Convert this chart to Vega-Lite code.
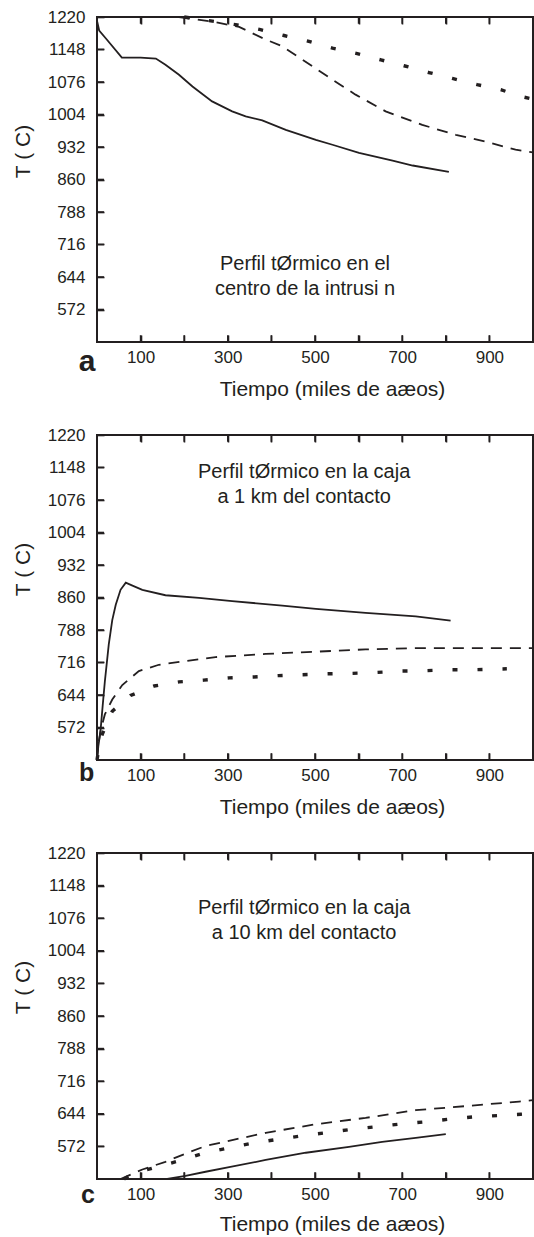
{
  "$schema": "https://vega.github.io/schema/vega-lite/v6.json",
  "background": "white",
  "padding": {"left": 11, "top": 7, "right": 0, "bottom": 0},
  "bounds": "flush",
  "spacing": 93,
  "config": {
    "font": "Liberation Sans",
    "view": {"stroke": "#231f20", "strokeWidth": 2},
    "axis": {"labelFont": "Liberation Sans", "titleFont": "Liberation Sans", "labelColor": "#231f20", "titleColor": "#231f20", "tickColor": "#231f20", "tickWidth": 1.6, "tickSize": 7, "offset": -7, "zindex": 2, "labelFontSize": 17, "titleFontSize": 21, "titleFontWeight": "normal", "grid": false, "domain": false, "labelFlush": false, "labelOverlap": false},
    "text": {"font": "Liberation Sans", "color": "#231f20"},
    "line": {"color": "#231f20", "clip": true},
    "rule": {"color": "#231f20", "strokeWidth": 1.6}
  },
  "datasets": {
    "xt": [{"v": 100}, {"v": 200}, {"v": 300}, {"v": 400}, {"v": 500}, {"v": 600}, {"v": 700}, {"v": 800}, {"v": 900}],
    "yt": [{"v": 572}, {"v": 644}, {"v": 716}, {"v": 788}, {"v": 860}, {"v": 932}, {"v": 1004}, {"v": 1076}, {"v": 1148}],
    "a": [
      {"t": 0, "T": 1212, "c": "solid"}, {"t": 5, "T": 1190, "c": "solid"}, {"t": 20, "T": 1173, "c": "solid"}, {"t": 57, "T": 1130, "c": "solid"}, {"t": 100, "T": 1130, "c": "solid"}, {"t": 135, "T": 1128, "c": "solid"}, {"t": 157, "T": 1114, "c": "solid"}, {"t": 188, "T": 1092, "c": "solid"}, {"t": 219, "T": 1066, "c": "solid"}, {"t": 264, "T": 1033, "c": "solid"}, {"t": 310, "T": 1011, "c": "solid"}, {"t": 341, "T": 1000, "c": "solid"}, {"t": 379, "T": 991, "c": "solid"}, {"t": 433, "T": 970, "c": "solid"}, {"t": 502, "T": 948, "c": "solid"}, {"t": 540, "T": 937, "c": "solid"}, {"t": 601, "T": 919, "c": "solid"}, {"t": 678, "T": 902, "c": "solid"}, {"t": 724, "T": 891, "c": "solid"}, {"t": 807, "T": 877, "c": "solid"},
      {"t": 188, "T": 1220, "c": "dashed"}, {"t": 264, "T": 1210, "c": "dashed"}, {"t": 326, "T": 1198, "c": "dashed"}, {"t": 387, "T": 1170, "c": "dashed"}, {"t": 425, "T": 1155, "c": "dashed"}, {"t": 494, "T": 1111, "c": "dashed"}, {"t": 540, "T": 1081, "c": "dashed"}, {"t": 593, "T": 1048, "c": "dashed"}, {"t": 662, "T": 1011, "c": "dashed"}, {"t": 746, "T": 981, "c": "dashed"}, {"t": 823, "T": 959, "c": "dashed"}, {"t": 891, "T": 944, "c": "dashed"}, {"t": 960, "T": 926, "c": "dashed"}, {"t": 1000, "T": 920, "c": "dashed"},
      {"t": 200, "T": 1220, "c": "dotted"}, {"t": 257, "T": 1212, "c": "dotted"}, {"t": 318, "T": 1203, "c": "dotted"}, {"t": 375, "T": 1192, "c": "dotted"}, {"t": 429, "T": 1179, "c": "dotted"}, {"t": 486, "T": 1166, "c": "dotted"}, {"t": 540, "T": 1151, "c": "dotted"}, {"t": 597, "T": 1139, "c": "dotted"}, {"t": 651, "T": 1125, "c": "dotted"}, {"t": 704, "T": 1112, "c": "dotted"}, {"t": 761, "T": 1097, "c": "dotted"}, {"t": 815, "T": 1084, "c": "dotted"}, {"t": 872, "T": 1070, "c": "dotted"}, {"t": 926, "T": 1059, "c": "dotted"}, {"t": 972, "T": 1044, "c": "dotted"}, {"t": 1000, "T": 1038, "c": "dotted"}
    ],
    "b": [
      {"t": 0, "T": 500, "c": "solid"}, {"t": 3, "T": 530, "c": "solid"}, {"t": 8, "T": 564, "c": "solid"}, {"t": 13, "T": 620, "c": "solid"}, {"t": 18, "T": 674, "c": "solid"}, {"t": 27, "T": 756, "c": "solid"}, {"t": 35, "T": 810, "c": "solid"}, {"t": 43, "T": 844, "c": "solid"}, {"t": 54, "T": 877, "c": "solid"}, {"t": 66, "T": 893, "c": "solid"}, {"t": 80, "T": 887, "c": "solid"}, {"t": 104, "T": 877, "c": "solid"}, {"t": 157, "T": 865, "c": "solid"}, {"t": 234, "T": 859, "c": "solid"}, {"t": 310, "T": 852, "c": "solid"}, {"t": 425, "T": 842, "c": "solid"}, {"t": 502, "T": 835, "c": "solid"}, {"t": 616, "T": 826, "c": "solid"}, {"t": 731, "T": 818, "c": "solid"}, {"t": 811, "T": 809, "c": "solid"},
      {"t": 0, "T": 500, "c": "dashed"}, {"t": 4, "T": 540, "c": "dashed"}, {"t": 8, "T": 564, "c": "dashed"}, {"t": 18, "T": 601, "c": "dashed"}, {"t": 35, "T": 634, "c": "dashed"}, {"t": 58, "T": 666, "c": "dashed"}, {"t": 96, "T": 697, "c": "dashed"}, {"t": 142, "T": 711, "c": "dashed"}, {"t": 203, "T": 719, "c": "dashed"}, {"t": 272, "T": 728, "c": "dashed"}, {"t": 387, "T": 735, "c": "dashed"}, {"t": 502, "T": 740, "c": "dashed"}, {"t": 616, "T": 745, "c": "dashed"}, {"t": 731, "T": 748, "c": "dashed"}, {"t": 846, "T": 748, "c": "dashed"}, {"t": 1000, "T": 748, "c": "dashed"},
      {"t": 0, "T": 500, "c": "dotted"}, {"t": 5, "T": 530, "c": "dotted"}, {"t": 12, "T": 557, "c": "dotted"}, {"t": 35, "T": 608, "c": "dotted"}, {"t": 77, "T": 643, "c": "dotted"}, {"t": 131, "T": 664, "c": "dotted"}, {"t": 188, "T": 673, "c": "dotted"}, {"t": 245, "T": 677, "c": "dotted"}, {"t": 303, "T": 682, "c": "dotted"}, {"t": 360, "T": 684, "c": "dotted"}, {"t": 417, "T": 687, "c": "dotted"}, {"t": 471, "T": 689, "c": "dotted"}, {"t": 528, "T": 691, "c": "dotted"}, {"t": 586, "T": 692, "c": "dotted"}, {"t": 643, "T": 694, "c": "dotted"}, {"t": 700, "T": 697, "c": "dotted"}, {"t": 757, "T": 698, "c": "dotted"}, {"t": 811, "T": 700, "c": "dotted"}, {"t": 869, "T": 700, "c": "dotted"}, {"t": 940, "T": 702, "c": "dotted"}
    ],
    "c": [
      {"t": 161, "T": 500, "c": "solid"}, {"t": 203, "T": 507, "c": "solid"}, {"t": 249, "T": 516, "c": "solid"}, {"t": 303, "T": 526, "c": "solid"}, {"t": 387, "T": 542, "c": "solid"}, {"t": 479, "T": 558, "c": "solid"}, {"t": 578, "T": 571, "c": "solid"}, {"t": 654, "T": 582, "c": "solid"}, {"t": 731, "T": 591, "c": "solid"}, {"t": 800, "T": 599, "c": "solid"},
      {"t": 54, "T": 500, "c": "dashed"}, {"t": 104, "T": 521, "c": "dashed"}, {"t": 157, "T": 538, "c": "dashed"}, {"t": 203, "T": 556, "c": "dashed"}, {"t": 249, "T": 573, "c": "dashed"}, {"t": 310, "T": 586, "c": "dashed"}, {"t": 387, "T": 602, "c": "dashed"}, {"t": 502, "T": 621, "c": "dashed"}, {"t": 616, "T": 635, "c": "dashed"}, {"t": 731, "T": 652, "c": "dashed"}, {"t": 846, "T": 661, "c": "dashed"}, {"t": 968, "T": 671, "c": "dashed"}, {"t": 1000, "T": 674, "c": "dashed"},
      {"t": 62, "T": 500, "c": "dotted"}, {"t": 81, "T": 511, "c": "dotted"}, {"t": 131, "T": 525, "c": "dotted"}, {"t": 188, "T": 540, "c": "dotted"}, {"t": 245, "T": 557, "c": "dotted"}, {"t": 299, "T": 568, "c": "dotted"}, {"t": 356, "T": 579, "c": "dotted"}, {"t": 410, "T": 587, "c": "dotted"}, {"t": 467, "T": 595, "c": "dotted"}, {"t": 524, "T": 602, "c": "dotted"}, {"t": 578, "T": 609, "c": "dotted"}, {"t": 635, "T": 615, "c": "dotted"}, {"t": 693, "T": 621, "c": "dotted"}, {"t": 750, "T": 626, "c": "dotted"}, {"t": 807, "T": 632, "c": "dotted"}, {"t": 861, "T": 637, "c": "dotted"}, {"t": 918, "T": 640, "c": "dotted"}, {"t": 972, "T": 643, "c": "dotted"}, {"t": 1000, "T": 645, "c": "dotted"}
    ]
  },
  "vconcat": [
    {
      "width": 436, "height": 325,
      "data": {"name": "a"},
      "resolve": {"axis": {"x": "independent", "y": "independent"}},
      "layer": [
        {"mark": {"type": "line", "strokeWidth": 1.8},
         "transform": [{"filter": "datum.c == 'solid'"}],
         "encoding": {
           "x": {"field": "t", "type": "quantitative", "scale": {"domain": [0, 1000], "nice": false, "zero": false},
                 "axis": {"orient": "bottom", "values": [100, 200, 300, 400, 500, 600, 700, 800, 900], "format": "d", "labelExpr": "datum.value % 200 == 100 ? datum.label : ''", "labelPadding": 20, "labelBaseline": "alphabetic", "title": "Tiempo (miles de aæos)", "titleX": 235, "titleY": 60, "titleBaseline": "alphabetic", "titleAlign": "center"}},
           "y": {"field": "T", "type": "quantitative", "scale": {"domain": [500, 1220], "nice": false, "zero": false},
                 "axis": {"orient": "left", "values": [572, 644, 716, 788, 860, 932, 1004, 1076, 1148, 1220], "format": "d", "labelPadding": 12, "title": "T ( C)", "titleX": -75, "titleY": 134, "titleBaseline": "alphabetic", "titleAlign": "center"}}
         }},
        {"mark": {"type": "line", "strokeWidth": 1.8, "strokeDash": [11, 8]},
         "transform": [{"filter": "datum.c == 'dashed'"}],
         "encoding": {"x": {"field": "t", "type": "quantitative", "axis": null}, "y": {"field": "T", "type": "quantitative", "axis": null}}},
        {"mark": {"type": "line", "strokeWidth": 3.4, "strokeDash": [5, 20]},
         "transform": [{"filter": "datum.c == 'dotted'"}],
         "encoding": {"x": {"field": "t", "type": "quantitative", "axis": null}, "y": {"field": "T", "type": "quantitative", "axis": null}}},
        {"data": {"name": "xt"}, "mark": {"type": "rule"},
         "encoding": {"x": {"field": "v", "type": "quantitative", "axis": null}, "y": {"datum": 500, "type": "quantitative", "axis": null}, "y2": {"datum": 515}}},
        {"data": {"name": "xt"}, "mark": {"type": "rule"},
         "encoding": {"x": {"field": "v", "type": "quantitative", "axis": null}, "y": {"datum": 1220, "type": "quantitative", "axis": null}, "y2": {"datum": 1205}}},
        {"data": {"name": "yt"}, "mark": {"type": "rule"},
         "encoding": {"y": {"field": "v", "type": "quantitative", "axis": null}, "x": {"datum": 0, "type": "quantitative", "axis": null}, "x2": {"datum": 16}}},
        {"data": {"values": [{}]},
         "mark": {"type": "text", "fontSize": 20, "align": "center", "baseline": "middle", "lineHeight": 25},
         "encoding": {"x": {"datum": 477, "type": "quantitative", "axis": null}, "y": {"datum": 672, "type": "quantitative", "axis": null}, "text": {"value": ["Perfil tØrmico en el", "centro de la intrusi  n"]}}},
        {"data": {"values": [{}]},
         "mark": {"type": "text", "fontSize": 30, "fontWeight": "bold", "align": "center", "baseline": "alphabetic"},
         "encoding": {"x": {"datum": -23, "type": "quantitative", "axis": {"orient": "top", "values": [100, 200, 300, 400, 500, 600, 700, 800, 900], "labels": false, "title": null}}, "y": {"datum": 436, "type": "quantitative", "axis": null}, "text": {"value": "a"}}}
      ]
    },
    {
      "width": 436, "height": 325,
      "data": {"name": "b"},
      "resolve": {"axis": {"x": "independent", "y": "independent"}},
      "layer": [
        {"mark": {"type": "line", "strokeWidth": 1.8},
         "transform": [{"filter": "datum.c == 'solid'"}],
         "encoding": {
           "x": {"field": "t", "type": "quantitative", "scale": {"domain": [0, 1000], "nice": false, "zero": false},
                 "axis": {"orient": "bottom", "values": [100, 200, 300, 400, 500, 600, 700, 800, 900], "format": "d", "labelExpr": "datum.value % 200 == 100 ? datum.label : ''", "labelPadding": 20, "labelBaseline": "alphabetic", "title": "Tiempo (miles de aæos)", "titleX": 235, "titleY": 60, "titleBaseline": "alphabetic", "titleAlign": "center"}},
           "y": {"field": "T", "type": "quantitative", "scale": {"domain": [500, 1220], "nice": false, "zero": false},
                 "axis": {"orient": "left", "values": [572, 644, 716, 788, 860, 932, 1004, 1076, 1148, 1220], "format": "d", "labelPadding": 12, "title": "T ( C)", "titleX": -75, "titleY": 134, "titleBaseline": "alphabetic", "titleAlign": "center"}}
         }},
        {"mark": {"type": "line", "strokeWidth": 1.8, "strokeDash": [11, 8]},
         "transform": [{"filter": "datum.c == 'dashed'"}],
         "encoding": {"x": {"field": "t", "type": "quantitative", "axis": null}, "y": {"field": "T", "type": "quantitative", "axis": null}}},
        {"mark": {"type": "line", "strokeWidth": 3.4, "strokeDash": [5, 20]},
         "transform": [{"filter": "datum.c == 'dotted'"}],
         "encoding": {"x": {"field": "t", "type": "quantitative", "axis": null}, "y": {"field": "T", "type": "quantitative", "axis": null}}},
        {"data": {"name": "xt"}, "mark": {"type": "rule"},
         "encoding": {"x": {"field": "v", "type": "quantitative", "axis": null}, "y": {"datum": 500, "type": "quantitative", "axis": null}, "y2": {"datum": 515}}},
        {"data": {"name": "xt"}, "mark": {"type": "rule"},
         "encoding": {"x": {"field": "v", "type": "quantitative", "axis": null}, "y": {"datum": 1220, "type": "quantitative", "axis": null}, "y2": {"datum": 1205}}},
        {"data": {"name": "yt"}, "mark": {"type": "rule"},
         "encoding": {"y": {"field": "v", "type": "quantitative", "axis": null}, "x": {"datum": 0, "type": "quantitative", "axis": null}, "x2": {"datum": 16}}},
        {"data": {"values": [{}]},
         "mark": {"type": "text", "fontSize": 20, "align": "center", "baseline": "middle", "lineHeight": 25},
         "encoding": {"x": {"datum": 475, "type": "quantitative", "axis": null}, "y": {"datum": 1137, "type": "quantitative", "axis": null}, "text": {"value": ["Perfil tØrmico en la caja", "a 1 km del contacto"]}}},
        {"data": {"values": [{}]},
         "mark": {"type": "text", "fontSize": 25, "fontWeight": "bold", "align": "center", "baseline": "alphabetic"},
         "encoding": {"x": {"datum": -24, "type": "quantitative", "axis": {"orient": "top", "values": [100, 200, 300, 400, 500, 600, 700, 800, 900], "labels": false, "title": null}}, "y": {"datum": 454, "type": "quantitative", "axis": null}, "text": {"value": "b"}}}
      ]
    },
    {
      "width": 436, "height": 326,
      "data": {"name": "c"},
      "resolve": {"axis": {"x": "independent", "y": "independent"}},
      "layer": [
        {"mark": {"type": "line", "strokeWidth": 1.8},
         "transform": [{"filter": "datum.c == 'solid'"}],
         "encoding": {
           "x": {"field": "t", "type": "quantitative", "scale": {"domain": [0, 1000], "nice": false, "zero": false},
                 "axis": {"orient": "bottom", "values": [100, 200, 300, 400, 500, 600, 700, 800, 900], "format": "d", "labelExpr": "datum.value % 200 == 100 ? datum.label : ''", "labelPadding": 20, "labelBaseline": "alphabetic", "title": "Tiempo (miles de aæos)", "titleX": 235, "titleY": 58, "titleBaseline": "alphabetic", "titleAlign": "center"}},
           "y": {"field": "T", "type": "quantitative", "scale": {"domain": [500, 1220], "nice": false, "zero": false},
                 "axis": {"orient": "left", "values": [572, 644, 716, 788, 860, 932, 1004, 1076, 1148, 1220], "format": "d", "labelPadding": 12, "title": "T ( C)", "titleX": -75, "titleY": 134, "titleBaseline": "alphabetic", "titleAlign": "center"}}
         }},
        {"mark": {"type": "line", "strokeWidth": 1.8, "strokeDash": [11, 8]},
         "transform": [{"filter": "datum.c == 'dashed'"}],
         "encoding": {"x": {"field": "t", "type": "quantitative", "axis": null}, "y": {"field": "T", "type": "quantitative", "axis": null}}},
        {"mark": {"type": "line", "strokeWidth": 3.4, "strokeDash": [5, 20]},
         "transform": [{"filter": "datum.c == 'dotted'"}],
         "encoding": {"x": {"field": "t", "type": "quantitative", "axis": null}, "y": {"field": "T", "type": "quantitative", "axis": null}}},
        {"data": {"name": "xt"}, "mark": {"type": "rule"},
         "encoding": {"x": {"field": "v", "type": "quantitative", "axis": null}, "y": {"datum": 500, "type": "quantitative", "axis": null}, "y2": {"datum": 515}}},
        {"data": {"name": "xt"}, "mark": {"type": "rule"},
         "encoding": {"x": {"field": "v", "type": "quantitative", "axis": null}, "y": {"datum": 1220, "type": "quantitative", "axis": null}, "y2": {"datum": 1205}}},
        {"data": {"name": "yt"}, "mark": {"type": "rule"},
         "encoding": {"y": {"field": "v", "type": "quantitative", "axis": null}, "x": {"datum": 0, "type": "quantitative", "axis": null}, "x2": {"datum": 16}}},
        {"data": {"values": [{}]},
         "mark": {"type": "text", "fontSize": 20, "align": "center", "baseline": "middle", "lineHeight": 25},
         "encoding": {"x": {"datum": 475, "type": "quantitative", "axis": null}, "y": {"datum": 1098, "type": "quantitative", "axis": null}, "text": {"value": ["Perfil tØrmico en la caja", "a 10 km del contacto"]}}},
        {"data": {"values": [{}]},
         "mark": {"type": "text", "fontSize": 25, "fontWeight": "bold", "align": "center", "baseline": "alphabetic"},
         "encoding": {"x": {"datum": -21, "type": "quantitative", "axis": {"orient": "top", "values": [100, 200, 300, 400, 500, 600, 700, 800, 900], "labels": false, "title": null}}, "y": {"datum": 446, "type": "quantitative", "axis": null}, "text": {"value": "c"}}}
      ]
    }
  ]
}
